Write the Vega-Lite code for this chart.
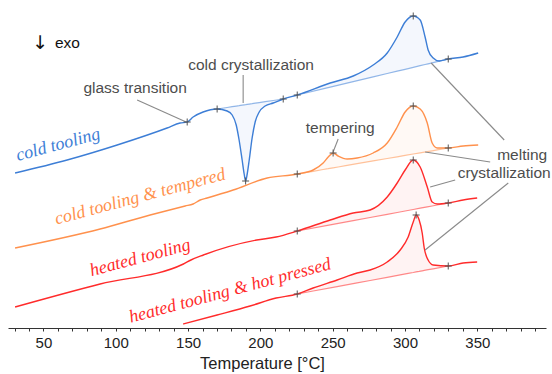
{
  "$schema": "https://vega.github.io/schema/vega-lite/v6.json",
  "width": 538,
  "height": 328,
  "autosize": {"type": "none"},
  "padding": {"left": 8, "top": 0, "right": 6, "bottom": 46},
  "background": "white",
  "config": {"view": {"stroke": null}},
  "datasets": {
    "curves": [
      {"s": "cold tooling", "T": 30.4, "v": 155}, {"s": "cold tooling", "T": 66.4, "v": 168}, {"s": "cold tooling", "T": 101.0, "v": 183}, {"s": "cold tooling", "T": 135.5, "v": 200}, {"s": "cold tooling", "T": 144.5, "v": 205}, {"s": "cold tooling", "T": 149.4, "v": 206}, {"s": "cold tooling", "T": 153.5, "v": 211}, {"s": "cold tooling", "T": 160.4, "v": 216}, {"s": "cold tooling", "T": 170.1, "v": 219}, {"s": "cold tooling", "T": 177.0, "v": 217}, {"s": "cold tooling", "T": 180.5, "v": 213}, {"s": "cold tooling", "T": 183.3, "v": 203}, {"s": "cold tooling", "T": 185.3, "v": 188}, {"s": "cold tooling", "T": 187.4, "v": 168}, {"s": "cold tooling", "T": 188.8, "v": 154}, {"s": "cold tooling", "T": 189.8, "v": 147}, {"s": "cold tooling", "T": 190.9, "v": 154}, {"s": "cold tooling", "T": 192.3, "v": 168}, {"s": "cold tooling", "T": 194.3, "v": 190}, {"s": "cold tooling", "T": 196.4, "v": 206}, {"s": "cold tooling", "T": 199.2, "v": 216}, {"s": "cold tooling", "T": 203.3, "v": 222}, {"s": "cold tooling", "T": 208.9, "v": 225}, {"s": "cold tooling", "T": 215.8, "v": 229}, {"s": "cold tooling", "T": 225.5, "v": 233}, {"s": "cold tooling", "T": 248.3, "v": 245}, {"s": "cold tooling", "T": 264.2, "v": 252}, {"s": "cold tooling", "T": 278.0, "v": 263}, {"s": "cold tooling", "T": 287.7, "v": 275}, {"s": "cold tooling", "T": 294.6, "v": 291}, {"s": "cold tooling", "T": 300.1, "v": 306}, {"s": "cold tooling", "T": 305.7, "v": 312}, {"s": "cold tooling", "T": 310.5, "v": 308}, {"s": "cold tooling", "T": 313.9, "v": 291}, {"s": "cold tooling", "T": 316.0, "v": 278}, {"s": "cold tooling", "T": 319.5, "v": 270}, {"s": "cold tooling", "T": 323.6, "v": 267}, {"s": "cold tooling", "T": 329.9, "v": 269}, {"s": "cold tooling", "T": 340.2, "v": 271}, {"s": "cold tooling", "T": 350.6, "v": 275},
      {"s": "cold tooling & tempered", "T": 30.4, "v": 80}, {"s": "cold tooling & tempered", "T": 89.2, "v": 99}, {"s": "cold tooling & tempered", "T": 123.8, "v": 113}, {"s": "cold tooling & tempered", "T": 148.0, "v": 122}, {"s": "cold tooling & tempered", "T": 153.5, "v": 124}, {"s": "cold tooling & tempered", "T": 158.4, "v": 128}, {"s": "cold tooling & tempered", "T": 163.2, "v": 130}, {"s": "cold tooling & tempered", "T": 181.2, "v": 138}, {"s": "cold tooling & tempered", "T": 204.7, "v": 150}, {"s": "cold tooling & tempered", "T": 225.5, "v": 154}, {"s": "cold tooling & tempered", "T": 236.5, "v": 158}, {"s": "cold tooling & tempered", "T": 243.4, "v": 165}, {"s": "cold tooling & tempered", "T": 246.9, "v": 171}, {"s": "cold tooling & tempered", "T": 250.3, "v": 175}, {"s": "cold tooling & tempered", "T": 253.8, "v": 172}, {"s": "cold tooling & tempered", "T": 260.0, "v": 169}, {"s": "cold tooling & tempered", "T": 266.9, "v": 170}, {"s": "cold tooling & tempered", "T": 278.0, "v": 175}, {"s": "cold tooling & tempered", "T": 287.7, "v": 185}, {"s": "cold tooling & tempered", "T": 294.6, "v": 201}, {"s": "cold tooling & tempered", "T": 300.1, "v": 216}, {"s": "cold tooling & tempered", "T": 305.7, "v": 222}, {"s": "cold tooling & tempered", "T": 310.5, "v": 219}, {"s": "cold tooling & tempered", "T": 315.4, "v": 205}, {"s": "cold tooling & tempered", "T": 318.8, "v": 185}, {"s": "cold tooling & tempered", "T": 322.3, "v": 180}, {"s": "cold tooling & tempered", "T": 329.9, "v": 180}, {"s": "cold tooling & tempered", "T": 340.2, "v": 182}, {"s": "cold tooling & tempered", "T": 350.6, "v": 183},
      {"s": "heated tooling", "T": 30.4, "v": 21}, {"s": "heated tooling", "T": 89.2, "v": 44}, {"s": "heated tooling", "T": 146.8, "v": 64}, {"s": "heated tooling", "T": 152.0, "v": 68}, {"s": "heated tooling", "T": 160.6, "v": 73}, {"s": "heated tooling", "T": 197.5, "v": 88}, {"s": "heated tooling", "T": 210.9, "v": 91}, {"s": "heated tooling", "T": 225.5, "v": 97}, {"s": "heated tooling", "T": 248.3, "v": 108}, {"s": "heated tooling", "T": 264.2, "v": 115}, {"s": "heated tooling", "T": 275.9, "v": 118}, {"s": "heated tooling", "T": 287.7, "v": 131}, {"s": "heated tooling", "T": 294.6, "v": 145}, {"s": "heated tooling", "T": 300.1, "v": 158}, {"s": "heated tooling", "T": 305.7, "v": 168}, {"s": "heated tooling", "T": 310.5, "v": 161}, {"s": "heated tooling", "T": 315.4, "v": 141}, {"s": "heated tooling", "T": 318.8, "v": 126}, {"s": "heated tooling", "T": 322.3, "v": 124}, {"s": "heated tooling", "T": 329.9, "v": 125}, {"s": "heated tooling", "T": 340.2, "v": 128}, {"s": "heated tooling", "T": 349.9, "v": 130},
      {"s": "heated tooling & hot pressed", "T": 146.6, "v": 4}, {"s": "heated tooling & hot pressed", "T": 170.1, "v": 13}, {"s": "heated tooling & hot pressed", "T": 192.9, "v": 22}, {"s": "heated tooling & hot pressed", "T": 210.9, "v": 30}, {"s": "heated tooling & hot pressed", "T": 225.5, "v": 34}, {"s": "heated tooling & hot pressed", "T": 236.5, "v": 40}, {"s": "heated tooling & hot pressed", "T": 253.1, "v": 48}, {"s": "heated tooling & hot pressed", "T": 266.9, "v": 55}, {"s": "heated tooling & hot pressed", "T": 275.9, "v": 58}, {"s": "heated tooling & hot pressed", "T": 287.7, "v": 66}, {"s": "heated tooling & hot pressed", "T": 296.7, "v": 78}, {"s": "heated tooling & hot pressed", "T": 302.2, "v": 91}, {"s": "heated tooling & hot pressed", "T": 305.7, "v": 106}, {"s": "heated tooling & hot pressed", "T": 307.7, "v": 113}, {"s": "heated tooling & hot pressed", "T": 309.8, "v": 108}, {"s": "heated tooling & hot pressed", "T": 311.9, "v": 95}, {"s": "heated tooling & hot pressed", "T": 313.3, "v": 80}, {"s": "heated tooling & hot pressed", "T": 316.0, "v": 68}, {"s": "heated tooling & hot pressed", "T": 319.5, "v": 63}, {"s": "heated tooling & hot pressed", "T": 329.9, "v": 62}, {"s": "heated tooling & hot pressed", "T": 340.2, "v": 65}, {"s": "heated tooling & hot pressed", "T": 349.9, "v": 66}
    ],
    "areas": [
      {"s": "cold tooling", "r": "b1", "T": 170.1, "v": 219, "b": 219}, {"s": "cold tooling", "r": "b1", "T": 177.0, "v": 217, "b": 220.5}, {"s": "cold tooling", "r": "b1", "T": 180.5, "v": 213, "b": 221.3}, {"s": "cold tooling", "r": "b1", "T": 183.3, "v": 203, "b": 221.9}, {"s": "cold tooling", "r": "b1", "T": 185.3, "v": 188, "b": 222.3}, {"s": "cold tooling", "r": "b1", "T": 187.4, "v": 168, "b": 222.8}, {"s": "cold tooling", "r": "b1", "T": 188.8, "v": 154, "b": 223.1}, {"s": "cold tooling", "r": "b1", "T": 189.8, "v": 147, "b": 223.3}, {"s": "cold tooling", "r": "b1", "T": 190.9, "v": 154, "b": 223.6}, {"s": "cold tooling", "r": "b1", "T": 192.3, "v": 168, "b": 223.9}, {"s": "cold tooling", "r": "b1", "T": 194.3, "v": 190, "b": 224.3}, {"s": "cold tooling", "r": "b1", "T": 196.4, "v": 206, "b": 224.8}, {"s": "cold tooling", "r": "b1", "T": 199.2, "v": 216, "b": 225.4}, {"s": "cold tooling", "r": "b1", "T": 203.3, "v": 222, "b": 226.3}, {"s": "cold tooling", "r": "b1", "T": 208.9, "v": 225, "b": 227.5}, {"s": "cold tooling", "r": "b1", "T": 215.8, "v": 229, "b": 229},
      {"s": "cold tooling", "r": "b2", "T": 225.5, "v": 233, "b": 233}, {"s": "cold tooling", "r": "b2", "T": 248.3, "v": 245, "b": 240.9}, {"s": "cold tooling", "r": "b2", "T": 264.2, "v": 252, "b": 246.3}, {"s": "cold tooling", "r": "b2", "T": 278.0, "v": 263, "b": 251.1}, {"s": "cold tooling", "r": "b2", "T": 287.7, "v": 275, "b": 254.5}, {"s": "cold tooling", "r": "b2", "T": 294.6, "v": 291, "b": 256.8}, {"s": "cold tooling", "r": "b2", "T": 300.1, "v": 306, "b": 258.7}, {"s": "cold tooling", "r": "b2", "T": 305.7, "v": 312, "b": 260.7}, {"s": "cold tooling", "r": "b2", "T": 310.5, "v": 308, "b": 262.3}, {"s": "cold tooling", "r": "b2", "T": 313.9, "v": 291, "b": 263.5}, {"s": "cold tooling", "r": "b2", "T": 316.0, "v": 278, "b": 264.2}, {"s": "cold tooling", "r": "b2", "T": 319.5, "v": 270, "b": 265.4}, {"s": "cold tooling", "r": "b2", "T": 323.6, "v": 267, "b": 266.8}, {"s": "cold tooling", "r": "b2", "T": 329.9, "v": 269, "b": 269},
      {"s": "cold tooling & tempered", "r": "o1", "T": 225.5, "v": 154, "b": 154}, {"s": "cold tooling & tempered", "r": "o1", "T": 236.5, "v": 158, "b": 156.7}, {"s": "cold tooling & tempered", "r": "o1", "T": 243.4, "v": 165, "b": 158.5}, {"s": "cold tooling & tempered", "r": "o1", "T": 246.9, "v": 171, "b": 159.3}, {"s": "cold tooling & tempered", "r": "o1", "T": 250.3, "v": 175, "b": 160.2}, {"s": "cold tooling & tempered", "r": "o1", "T": 253.8, "v": 172, "b": 161}, {"s": "cold tooling & tempered", "r": "o1", "T": 260.0, "v": 169, "b": 162.6}, {"s": "cold tooling & tempered", "r": "o1", "T": 266.9, "v": 170, "b": 164.3}, {"s": "cold tooling & tempered", "r": "o1", "T": 278.0, "v": 175, "b": 167.1}, {"s": "cold tooling & tempered", "r": "o1", "T": 287.7, "v": 185, "b": 169.5}, {"s": "cold tooling & tempered", "r": "o1", "T": 294.6, "v": 201, "b": 171.2}, {"s": "cold tooling & tempered", "r": "o1", "T": 300.1, "v": 216, "b": 172.6}, {"s": "cold tooling & tempered", "r": "o1", "T": 305.7, "v": 222, "b": 174}, {"s": "cold tooling & tempered", "r": "o1", "T": 310.5, "v": 219, "b": 175.2}, {"s": "cold tooling & tempered", "r": "o1", "T": 315.4, "v": 205, "b": 176.4}, {"s": "cold tooling & tempered", "r": "o1", "T": 318.8, "v": 185, "b": 177.2}, {"s": "cold tooling & tempered", "r": "o1", "T": 322.3, "v": 180, "b": 178.1}, {"s": "cold tooling & tempered", "r": "o1", "T": 329.9, "v": 180, "b": 180},
      {"s": "heated tooling", "r": "h1", "T": 225.5, "v": 97, "b": 97}, {"s": "heated tooling", "r": "h1", "T": 248.3, "v": 108, "b": 103.1}, {"s": "heated tooling", "r": "h1", "T": 264.2, "v": 115, "b": 107.4}, {"s": "heated tooling", "r": "h1", "T": 275.9, "v": 118, "b": 110.5}, {"s": "heated tooling", "r": "h1", "T": 287.7, "v": 131, "b": 113.7}, {"s": "heated tooling", "r": "h1", "T": 294.6, "v": 145, "b": 115.5}, {"s": "heated tooling", "r": "h1", "T": 300.1, "v": 158, "b": 117}, {"s": "heated tooling", "r": "h1", "T": 305.7, "v": 168, "b": 118.5}, {"s": "heated tooling", "r": "h1", "T": 310.5, "v": 161, "b": 119.8}, {"s": "heated tooling", "r": "h1", "T": 315.4, "v": 141, "b": 121.1}, {"s": "heated tooling", "r": "h1", "T": 318.8, "v": 126, "b": 122}, {"s": "heated tooling", "r": "h1", "T": 322.3, "v": 124, "b": 123}, {"s": "heated tooling", "r": "h1", "T": 329.9, "v": 125, "b": 125},
      {"s": "heated tooling & hot pressed", "r": "p1", "T": 225.5, "v": 34, "b": 34}, {"s": "heated tooling & hot pressed", "r": "p1", "T": 236.5, "v": 40, "b": 37}, {"s": "heated tooling & hot pressed", "r": "p1", "T": 253.1, "v": 48, "b": 41.4}, {"s": "heated tooling & hot pressed", "r": "p1", "T": 266.9, "v": 55, "b": 45.1}, {"s": "heated tooling & hot pressed", "r": "p1", "T": 275.9, "v": 58, "b": 47.5}, {"s": "heated tooling & hot pressed", "r": "p1", "T": 287.7, "v": 66, "b": 50.7}, {"s": "heated tooling & hot pressed", "r": "p1", "T": 296.7, "v": 78, "b": 53.1}, {"s": "heated tooling & hot pressed", "r": "p1", "T": 302.2, "v": 91, "b": 54.6}, {"s": "heated tooling & hot pressed", "r": "p1", "T": 305.7, "v": 106, "b": 55.5}, {"s": "heated tooling & hot pressed", "r": "p1", "T": 307.7, "v": 113, "b": 56.1}, {"s": "heated tooling & hot pressed", "r": "p1", "T": 309.8, "v": 108, "b": 56.6}, {"s": "heated tooling & hot pressed", "r": "p1", "T": 311.9, "v": 95, "b": 57.2}, {"s": "heated tooling & hot pressed", "r": "p1", "T": 313.3, "v": 80, "b": 57.6}, {"s": "heated tooling & hot pressed", "r": "p1", "T": 316.0, "v": 68, "b": 58.3}, {"s": "heated tooling & hot pressed", "r": "p1", "T": 319.5, "v": 63, "b": 59.2}, {"s": "heated tooling & hot pressed", "r": "p1", "T": 329.9, "v": 62, "b": 62}
    ],
    "crosses": [
      {"T": 149.4, "v": 206}, {"T": 170.1, "v": 219}, {"T": 189.8, "v": 147}, {"T": 215.8, "v": 229}, {"T": 225.5, "v": 233}, {"T": 305.7, "v": 312}, {"T": 329.9, "v": 269},
      {"T": 225.5, "v": 154}, {"T": 250.3, "v": 175}, {"T": 305.7, "v": 222}, {"T": 329.9, "v": 180},
      {"T": 225.5, "v": 97}, {"T": 305.7, "v": 168}, {"T": 329.9, "v": 125},
      {"T": 225.5, "v": 34}, {"T": 307.7, "v": 113}, {"T": 329.9, "v": 62}
    ],
    "notes": [
      {"t": "glass transition", "T": 113.4, "v": 240},
      {"t": "cold crystallization", "T": 193.6, "v": 263},
      {"t": "tempering", "T": 255.2, "v": 200},
      {"t": "melting", "T": 381, "v": 173},
      {"t": "crystallization", "T": 368.6, "v": 155}
    ],
    "leaders": [
      {"T": 114.8, "v": 228, "T2": 148.7, "v2": 206},
      {"T": 188.1, "v": 253, "T2": 188.1, "v2": 225},
      {"T": 253.8, "v": 189, "T2": 250.3, "v2": 176},
      {"T": 318.1, "v": 265, "T2": 368.6, "v2": 188},
      {"T": 313.9, "v": 176, "T2": 358.9, "v2": 166},
      {"T": 317.4, "v": 141, "T2": 334.7, "v2": 148},
      {"T": 313.9, "v": 78, "T2": 371.4, "v2": 145}
    ],
    "names": [
      {"s": "cold tooling", "T": 60.2, "v": 183},
      {"s": "cold tooling & tempered", "T": 116.9, "v": 131},
      {"s": "heated tooling", "T": 116.9, "v": 70},
      {"s": "heated tooling & hot pressed", "T": 179.1, "v": 37}
    ],
    "arrow": [{"t": "↓", "T": 53.3, "v": 285}],
    "exo": [{"t": "exo", "T": 58.0, "v": 285}]
  },
  "encoding": {
    "x": {"field": "T", "type": "quantitative", "scale": {"domain": [25.5, 397.5], "nice": false, "zero": false},
      "axis": {"title": "Temperature [°C]", "values": [30, 40, 50, 60, 70, 80, 90, 100, 110, 120, 130, 140, 150, 160, 170, 180, 190, 200, 210, 220, 230, 240, 250, 260, 270, 280, 290, 300, 310, 320, 330, 340, 350, 360, 370, 380, 390],
        "labelExpr": "datum.value % 50 === 0 ? datum.label : ''", "grid": false, "domainColor": "#333", "tickColor": "#333", "tickSize": 3,
        "labelFont": "Liberation Sans", "labelFontSize": 15, "labelColor": "#222", "labelPadding": 4,
        "titleFont": "Liberation Sans", "titleFontSize": 16.5, "titleFontWeight": "normal", "titleColor": "#222", "titleX": 254, "titleY": 35, "titleBaseline": "middle"}},
    "y": {"field": "v", "type": "quantitative", "scale": {"domain": [0, 328], "nice": false, "zero": false}, "axis": null}
  },
  "layer": [
    {"data": {"name": "areas"}, "mark": {"type": "area", "interpolate": "monotone", "fillOpacity": 0.06},
      "encoding": {"y2": {"field": "b"}, "detail": {"field": "r"}, "color": {"field": "s", "type": "nominal", "legend": null,
        "scale": {"domain": ["cold tooling", "cold tooling & tempered", "heated tooling", "heated tooling & hot pressed"], "range": ["#3d7ed6", "#ff914d", "#ff2b2b", "#ff2b2b"]}}}},
    {"data": {"name": "areas"}, "mark": {"type": "line", "strokeWidth": 1.2, "opacity": 0.55},
      "encoding": {"y": {"field": "b", "type": "quantitative"}, "detail": {"field": "r"}, "color": {"field": "s", "type": "nominal", "legend": null}}},
    {"data": {"name": "curves"}, "mark": {"type": "line", "interpolate": "monotone", "strokeWidth": 1.4},
      "encoding": {"color": {"field": "s", "type": "nominal", "legend": null}}},
    {"data": {"name": "leaders"}, "mark": {"type": "rule", "color": "#8a8a8a", "strokeWidth": 1.1},
      "encoding": {"x2": {"field": "T2"}, "y2": {"field": "v2"}}},
    {"data": {"name": "crosses"}, "mark": {"type": "point", "shape": "M-1,0H1M0,-1V1", "size": 49, "stroke": "#555", "strokeWidth": 1, "filled": false, "opacity": 1},
      "encoding": {}},
    {"data": {"name": "notes"}, "mark": {"type": "text", "font": "Liberation Sans", "fontSize": 15.5, "color": "#4d4d4d", "align": "center", "baseline": "middle"},
      "encoding": {"text": {"field": "t"}}},
    {"data": {"name": "arrow"}, "mark": {"type": "text", "font": "DejaVu Sans", "fontSize": 19, "color": "#111", "align": "right", "baseline": "middle"},
      "encoding": {"text": {"field": "t"}}},
    {"data": {"name": "exo"}, "mark": {"type": "text", "font": "Liberation Sans", "fontSize": 15.5, "color": "#111", "align": "left", "baseline": "middle"},
      "encoding": {"text": {"field": "t"}}},
    {"data": {"name": "names"}, "mark": {"type": "text", "font": "Liberation Serif", "fontStyle": "italic", "fontSize": 18, "angle": -15, "align": "center", "baseline": "middle"},
      "encoding": {"text": {"field": "s"}, "color": {"field": "s", "type": "nominal", "legend": null}}}
  ]
}
